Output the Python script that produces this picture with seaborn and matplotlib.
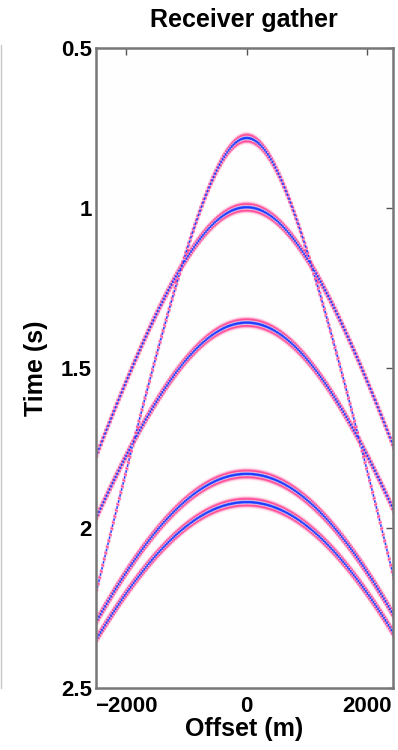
import numpy as np
import matplotlib
matplotlib.use("Agg")
import matplotlib.pyplot as plt
from matplotlib.lines import Line2D
from matplotlib.colors import TwoSlopeNorm
import seaborn as sns

# ---- data ----
event_t0 = [0.784, 1.00, 1.36, 1.832, 1.92]          # apex times (s)
event_velocity = [1214, 1700, 1752, 1810, 1845]      # moveout velocities (m/s)
wavelet_freq = 40.0                                  # Ricker peak frequency (Hz)
offset_first, offset_last, offset_step = -2500, 2425, 25
time_first, time_last, time_step = 0.5, 2.5, 0.002
x_ticks = [-2000, 0, 2000]
x_tick_labels = ["\u22122000", "0", "2000"]
y_ticks = [0.5, 1, 1.5, 2, 2.5]
y_tick_labels = ["0.5", "1", "1.5", "2", "2.5"]
title_text = "Receiver gather"
x_label = "Offset (m)"
y_label = "Time (s)"

# ---- build gather ----
offsets = np.arange(offset_first, offset_last + offset_step / 2, offset_step)
times = np.arange(time_first, time_last + time_step / 2, time_step)
T, X = np.meshgrid(times, offsets, indexing="ij")
gather = np.zeros_like(T)
for t0, v in zip(event_t0, event_velocity):
    tx = np.sqrt(t0 ** 2 + (X / v) ** 2)
    a = (np.pi * wavelet_freq * (T - tx)) ** 2
    gather += (1 - 2 * a) * np.exp(-a)

sns.set_style("white")
plt.rcParams["font.family"] = ["Liberation Sans", "DejaVu Sans"]
plt.rcParams["font.weight"] = "bold"
plt.rcParams["text.color"] = "black"
plt.rcParams["axes.labelcolor"] = "black"
plt.rcParams["xtick.labelcolor"] = "black"
plt.rcParams["ytick.labelcolor"] = "black"

fig = plt.figure(figsize=(3.98, 7.5), dpi=100)
ax = fig.add_axes([96 / 398, 1 - 688 / 750, (392.7 - 96) / 398, (688 - 47.5) / 750])

cmap = sns.blend_palette(["#ff4a96", "#ffffff", "#1e3cff"], as_cmap=True)
norm = TwoSlopeNorm(vmin=-0.40, vcenter=0.0, vmax=0.6)
ax.imshow(gather, cmap=cmap, norm=norm, aspect="auto",
          extent=[offset_first - offset_step / 2, offset_last + offset_step / 2,
                  time_last + time_step / 2, time_first - time_step / 2],
          interpolation="antialiased")
ax.set_xlim(offset_first, offset_last)
ax.set_ylim(time_last, time_first)

ax.set_xticks(x_ticks)
ax.set_xticklabels(x_tick_labels)
ax.set_yticks(y_ticks)
ax.set_yticklabels(y_tick_labels)
ax.tick_params(direction="in", length=5, width=1, color="#555555",
               labelcolor="black", top=True, right=True, labelsize=16, pad=3)
ax.tick_params(axis="x", pad=6)
for s in ax.spines.values():
    s.set_color("#777777")
    s.set_linewidth(1.8)

ax.set_title(title_text, fontsize=18, fontweight="bold", pad=15, color="black")
ax.set_xlabel(x_label, fontsize=18, fontweight="bold", labelpad=0, color="black")
ax.set_ylabel(y_label, fontsize=18, fontweight="bold", labelpad=9, color="black")

fig.add_artist(Line2D([0.6 / 398, 0.6 / 398], [1 - 45 / 750, 1 - 688 / 750],
                      transform=fig.transFigure, color="#c8c8c8", lw=1))

fig.savefig("out.png", dpi=100, facecolor="white")
